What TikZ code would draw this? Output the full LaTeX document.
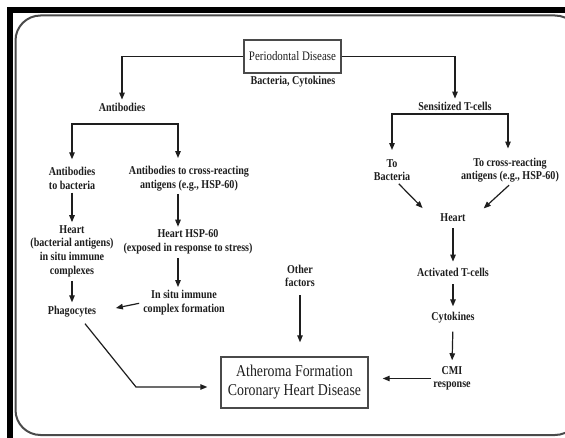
\documentclass[tikz,border=0pt]{standalone}
\usepackage{fontspec}
\setmainfont{Liberation Serif}
\newfontfamily\lblfont[FakeStretch=0.84]{Liberation Serif}
\newfontfamily\boxfont[FakeStretch=0.84]{Liberation Serif}
\usetikzlibrary{arrows.meta,calc}
\definecolor{ink}{HTML}{1E1E1E}
\definecolor{rim}{HTML}{4A4A4A}
\begin{document}
\begin{tikzpicture}[x=1pt,y=-1pt,
  lbl/.style={font=\lblfont\bfseries\fontsize{12}{13.6}\selectfont, align=center, inner sep=0pt, text=ink},
  headbox/.style={draw=rim, line width=1.4pt, inner sep=0pt, text=ink},
  arr/.style={draw=ink, line width=1.2pt, -{Triangle[length=7pt,width=5.5pt]}},
  biarr/.style={draw=ink, line width=1.2pt, {Triangle[length=7pt,width=5.5pt]}-{Triangle[length=7pt,width=5.5pt]}},
  ln/.style={draw=ink, line width=1.2pt}]
\useasboundingbox (0,0) rectangle (565,438);
\clip (0,0) rectangle (565,438);
\fill[white] (0,0) rectangle (565,438);
% heavy frame along the top and left
\fill[black] (7,7) rectangle (565,13);
\fill[black] (7,7) rectangle (13,438);
% inner rounded panel
\draw[rim, line width=2pt, rounded corners=25pt] (15.5,15.5) rectangle (580,435);

% top box
\node[headbox, minimum width=97pt, minimum height=33pt,
      font=\boxfont\fontsize{13}{15}\selectfont] (pd) at (292.5,56.5) {Periodontal Disease};
\node[lbl] (bc) at (293,82) {Bacteria, Cytokines};

% left branch
\node[lbl] (ab) at (122,107) {Antibodies};
\node[lbl] (a1) at (72,178.5) {Antibodies\\to bacteria};
\node[lbl] (a2) at (189,178.5) {Antibodies to cross-reacting\\antigens (e.g., HSP-60)};
\node[lbl] (h1) at (72,251) {Heart\\(bacterial antigens)\\in situ immune\\complexes};
\node[lbl] (h2) at (188,242) {Heart HSP-60\\(exposed in response to stress)};
\node[lbl] (isc) at (184,302.5) {In situ immune\\complex formation};
\node[lbl] (ph) at (72,312) {Phagocytes};
\node[lbl] (of) at (300,276) {Other\\factors};

% right branch
\node[lbl] (st) at (455,106) {Sensitized T-cells};
\node[lbl] (tb) at (392,170) {To\\Bacteria};
\node[lbl] (tc) at (510,170) {To cross-reacting\\antigens (e.g., HSP-60)};
\node[lbl] (hr) at (453,218) {Heart};
\node[lbl] (at) at (453,272) {Activated T-cells};
\node[lbl] (cy) at (453,318) {Cytokines};
\node[lbl] (cmi) at (452,378.5) {CMI\\response};

% outcome box
\node[headbox, minimum width=147pt, minimum height=51pt, align=center,
      font=\boxfont\fontsize{16.5}{19}\selectfont] (ath) at (294.5,382.5)
      {Atheroma Formation\\Coronary Heart Disease};

% branch points
\coordinate (lb) at (178,124);
\coordinate (rb) at (508,114);
\coordinate (bend) at (136,387);

% connectors
\draw[arr, shorten >=3pt] (pd.west) -| (ab.north);
\draw[arr, shorten >=3pt] (pd.east) -| (st.north);
\draw[biarr, shorten <=8pt, shorten >=8pt] (a1.north) |- (lb) -- (lb |- a2.north);
\draw[biarr, shorten <=9pt, shorten >=9pt] (tb.north) |- (rb) -- (rb |- tc.north);
\draw[arr, shorten <=3pt, shorten >=3pt] (a1.south) -- (h1.north);
\draw[arr, shorten <=3pt, shorten >=3pt] (lb |- a2.south) -- (lb |- h2.north);
\draw[arr, shorten <=4pt, shorten >=3pt] (lb |- h2.south) -- (lb |- isc.north);
\draw[arr, shorten <=4pt, shorten >=4pt] (h1.south) -- (ph.north);
\draw[arr, shorten <=4pt, shorten >=20pt] (isc.west) -- (ph.east);
\draw[arr, shorten >=13pt] ([xshift=13pt,yshift=-6pt]ph.south) -- (bend) -- (bend -| ath.west);
\draw[arr, shorten <=8pt, shorten >=14pt] (of.south) -- (of.south |- ath.north);
\draw[arr, shorten <=4pt, shorten >=8pt] ([xshift=4pt]tb.south) -- ([xshift=-12pt]hr.north west);
\draw[arr, shorten <=4pt, shorten >=8pt] ([xshift=2pt]tc.south) -- ([xshift=12pt]hr.north east);
\draw[arr, shorten <=6pt, shorten >=6pt] (hr.south) -- (at.north);
\draw[arr, shorten <=8pt, shorten >=6pt] (at.south) -- (cy.north);
\draw[arr, shorten <=8pt, shorten >=6pt] (cy.south) -- (cmi.north);
\draw[arr, shorten <=2pt, shorten >=14pt] (cmi.west) -- (cmi.west -| ath.east);
\end{tikzpicture}
\end{document}
